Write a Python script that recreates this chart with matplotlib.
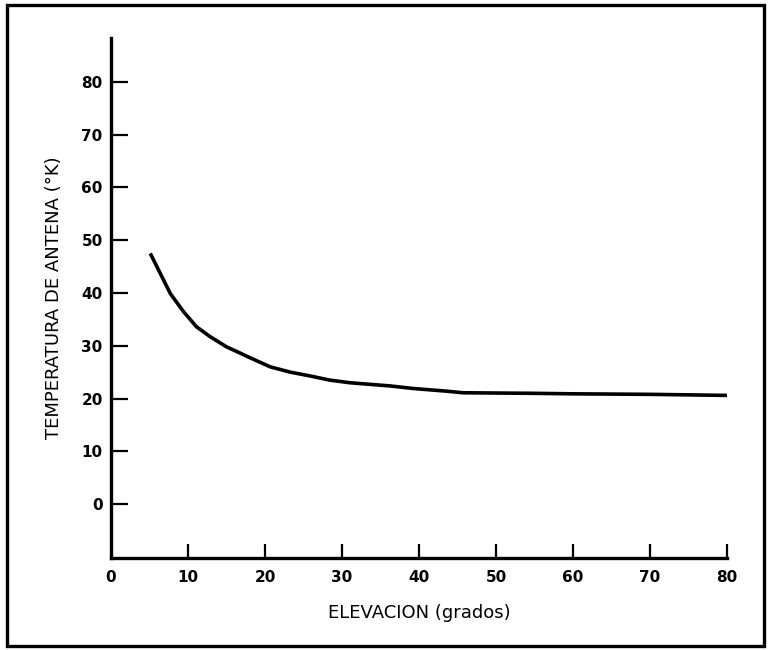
import numpy as np
import matplotlib
matplotlib.use("Agg")
import matplotlib.pyplot as plt
from matplotlib.patches import Rectangle

# curve: elevation (degrees) vs antenna temperature (K)
elevacion = [5.1, 6.4, 7.7, 9.4, 11.1, 12.9, 15.0, 16.8, 18.1, 20.7, 23.3, 25.8,
             28.4, 31.0, 33.6, 36.2, 39.3, 43.6, 45.7, 54.4, 60, 70, 80]
temperatura = [47.5, 43.7, 39.9, 36.5, 33.6, 31.7, 29.8, 28.6, 27.7, 26.0, 25.0, 24.3,
               23.5, 23.0, 22.7, 22.4, 21.9, 21.4, 21.1, 21.0, 20.9, 20.8, 20.6]

x_ticks = [0, 10, 20, 30, 40, 50, 60, 70, 80]
y_ticks = [0, 10, 20, 30, 40, 50, 60, 70, 80]

fig = plt.figure(figsize=(7.7, 6.5), dpi=100)
ax = fig.add_axes([111 / 770, 1 - 558 / 650, 616 / 770, 520 / 650])

ax.plot(elevacion, temperatura, color='black', linewidth=2.6,
        solid_capstyle='butt', solid_joinstyle='round')

ax.set_xlim(0, 80)
ax.set_ylim(-10.2, 88.3)

ax.spines['top'].set_visible(False)
ax.spines['right'].set_visible(False)
ax.spines['left'].set_linewidth(2.4)
ax.spines['bottom'].set_linewidth(2.4)

ax.set_xticks(x_ticks)
ax.set_yticks(y_ticks)
ax.set_xticklabels([str(v) for v in x_ticks], fontsize=11, fontweight='bold')
ax.set_yticklabels([str(v) for v in y_ticks], fontsize=11, fontweight='bold')
ax.tick_params(axis='x', direction='in', length=10, width=1.6, pad=9)
ax.tick_params(axis='y', direction='in', length=12, width=1.6, pad=6)
# no tick mark at x = 0, only its label
ax.get_xaxis().get_major_ticks()[0].tick1line.set_visible(False)

ax.set_xlabel("ELEVACION (grados)", fontsize=13, labelpad=13)
ax.set_ylabel("TEMPERATURA DE ANTENA (°K)", fontsize=13, labelpad=13)

# frame around whole drawing
fig.patches.append(Rectangle((7 / 770, 4 / 650), 757 / 770, 641 / 650,
                             transform=fig.transFigure, fill=False,
                             edgecolor='black', linewidth=2.4))

fig.savefig("out.png", dpi=100)
